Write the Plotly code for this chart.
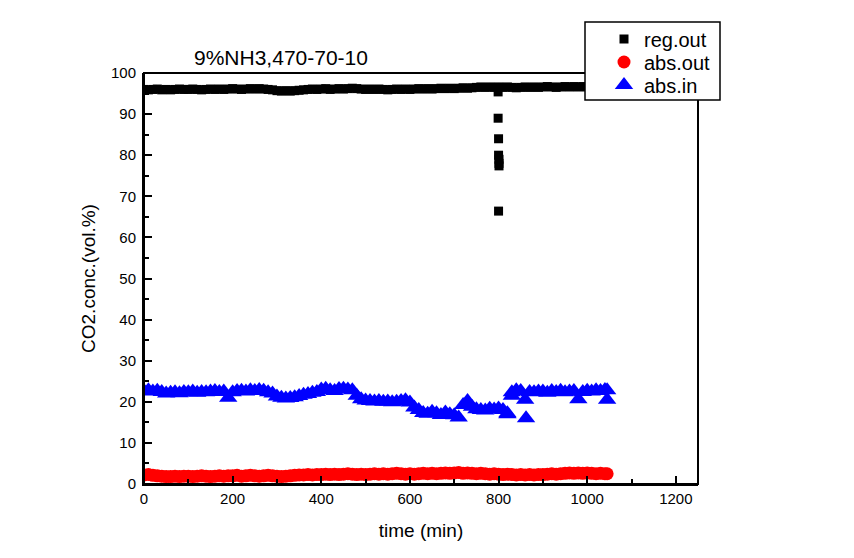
import plotly.graph_objects as go

# ---- data ----
time_base = [t * 10 for t in range(105)] + [1045]

reg_out = (
    [96.0, 95.9, 96.0, 96.1, 95.9, 96.0, 95.9, 96.0, 96.1, 96.0,
     96.0, 96.1, 96.0, 95.9, 96.0, 96.1, 96.0, 96.1, 96.0, 96.1,
     96.2, 96.1, 96.0, 96.1, 96.2, 96.1, 96.2, 96.1, 96.0, 95.9,
     95.7, 95.6, 95.7, 95.6, 95.7, 95.8, 95.9, 96.0, 96.1, 96.0,
     96.1, 96.2, 96.0, 96.1, 96.2, 96.1, 96.2, 96.3, 96.2, 96.1,
     96.0, 96.1, 96.0, 96.1, 96.0, 95.9, 96.0, 96.1, 96.0, 96.1,
     96.0, 96.1, 96.2, 96.1, 96.2, 96.1, 96.2, 96.3, 96.2, 96.3,
     96.2, 96.3, 96.4, 96.3, 96.4, 96.5, 96.6, 96.5, 96.6, 96.5,
     96.6, 96.5, 96.6, 96.5, 96.4, 96.5, 96.6, 96.5, 96.6, 96.5,
     96.6, 96.7, 96.6, 96.5, 96.6, 96.7, 96.6, 96.7, 96.6, 96.7,
     96.6, 96.7, 96.6, 96.7, 96.6, 96.7]
)
reg_dip_time = [799, 799, 800, 800, 801, 801, 801, 800]
reg_dip = [95.4, 89.0, 84.0, 80.0, 79.0, 78.0, 77.4, 66.4]

abs_out = [
    2.2, 2.3, 2.1, 2.0, 1.9, 1.8, 1.8, 1.9, 1.8, 1.9,
    1.9, 1.8, 1.9, 2.0, 1.9, 1.8, 1.9, 2.0, 1.9, 2.0,
    2.0, 2.1, 1.9, 2.0, 2.1, 2.0, 1.9, 2.0, 2.1, 2.0,
    1.9, 1.8, 1.9, 2.0, 2.1, 2.2, 2.2, 2.3, 2.2, 2.3,
    2.3, 2.4, 2.3, 2.4, 2.3, 2.4, 2.5, 2.4, 2.3, 2.4,
    2.3, 2.4, 2.5, 2.4, 2.5, 2.4, 2.5, 2.6, 2.5, 2.4,
    2.5, 2.4, 2.5, 2.6, 2.5, 2.6, 2.5, 2.6, 2.7, 2.6,
    2.7, 2.8, 2.6, 2.7, 2.6, 2.5, 2.6, 2.5, 2.4, 2.5,
    2.4, 2.3, 2.4, 2.3, 2.2, 2.3, 2.2, 2.3, 2.2, 2.3,
    2.3, 2.4, 2.5, 2.4, 2.5, 2.6, 2.7, 2.6, 2.7, 2.6,
    2.7, 2.6, 2.5, 2.6, 2.5, 2.5]

abs_in = [
    22.6, 22.8, 22.5, 22.7, 22.4, 22.0, 22.2, 22.3, 22.1, 22.4,
    22.3, 22.5, 22.2, 22.4, 22.3, 22.5, 22.6, 22.4, 22.5, 21.0,
    22.3, 22.6, 22.7, 22.5, 22.8, 22.6, 22.9, 22.7, 22.3, 22.0,
    21.3, 21.0, 20.8, 20.9, 21.1, 21.4, 21.7, 21.9, 22.2, 22.4,
    23.0, 23.2, 22.8, 22.6, 23.1, 23.2, 23.0, 22.8, 21.5, 20.6,
    20.3, 20.2, 20.1, 20.2, 20.0, 20.1, 19.9, 20.0, 20.2, 20.4,
    19.8, 18.6, 18.0, 17.3, 17.1, 17.6, 17.2, 16.8, 17.4, 17.0,
    16.7, 16.2, 19.2, 20.2, 18.8, 18.2, 18.0, 17.9, 18.3, 18.1,
    18.4, 18.0, 17.2, 22.3, 22.8, 22.6, 20.5, 22.4, 22.3, 22.5,
    22.5, 22.2, 22.6, 22.4, 22.7, 22.3, 22.5, 22.6, 20.6, 22.4,
    22.7, 22.5, 22.8, 22.6, 22.9, 20.5]
abs_in_extra_time = [820, 862, 1045, 830]
abs_in_extra = [17.0, 16.0, 22.8, 21.5]

x_ticks = [0, 200, 400, 600, 800, 1000, 1200]
y_ticks = [0, 10, 20, 30, 40, 50, 60, 70, 80, 90, 100]

FONT = "Arial, Liberation Sans, sans-serif"

# pixel layout helpers (plot area 144..698 x 73..484 on screen; page has 8px body offset)
OFF = 8
PL, PR, PT, PB = 144, 698, 73, 484
W, H = PR - PL, PB - PT
def px(x):
    return (x - PL) / W
def py(y):
    return (PB - y) / H

fig = go.Figure()
fig.add_trace(go.Scatter(
    x=time_base + reg_dip_time, y=reg_out + reg_dip, mode="markers", name="reg.out",
    legend="legend",
    marker=dict(symbol="square", size=9, color="black", line=dict(width=0))))
fig.add_trace(go.Scatter(
    x=time_base, y=abs_out, mode="markers", name="abs.out",
    legend="legend2",
    marker=dict(symbol="circle", size=13, color="#ff0000", line=dict(width=0))))
fig.add_trace(go.Scatter(
    x=time_base + abs_in_extra_time, y=abs_in + abs_in_extra, mode="markers", name="abs.in",
    legend="legend3",
    marker=dict(symbol="triangle-up", size=16, color="#0000ff", line=dict(width=0))))

axis_common = dict(
    showgrid=False, zeroline=False, showline=True, linecolor="black", linewidth=2,
    ticks="inside", ticklen=8, tickwidth=1.5, tickcolor="black", automargin=False,
    tickfont=dict(family=FONT, size=15, color="black"),
)
fig.update_xaxes(
    range=[0, 1250], tickvals=x_ticks, ticktext=[str(v) for v in x_ticks],
    minor=dict(ticks="inside", ticklen=5, tickwidth=1.5, tickcolor="black", dtick=100),
    title=dict(text="time (min)", font=dict(family=FONT, size=19, color="black"), standoff=18),
    **axis_common)
fig.update_yaxes(
    range=[0, 100], tickvals=y_ticks, ticktext=[str(v) for v in y_ticks],
    minor=dict(ticks="inside", ticklen=5, tickwidth=1.5, tickcolor="black", dtick=5),
    title=dict(text="CO2.conc.(vol.%)", font=dict(family=FONT, size=19, color="black"), standoff=10),
    ticklabelstandoff=3,
    **axis_common)

# plot frame (top/right borders)
fig.add_shape(type="rect", xref="paper", yref="paper", x0=0, y0=0, x1=1, y1=1,
              line=dict(color="black", width=2), fillcolor="rgba(0,0,0,0)", layer="above")
# legend box
fig.add_shape(type="rect", xref="paper", yref="paper",
              x0=px(585), x1=px(720), y0=py(100), y1=py(22),
              line=dict(color="black", width=1.5), fillcolor="white", layer="above")

fig.add_annotation(text="9%NH3,470-70-10", xref="paper", yref="paper",
                   x=px(192), y=py(57), xanchor="left", yanchor="middle",
                   showarrow=False, font=dict(family=FONT, size=21, color="black"))

leg_common = dict(xanchor="left", yanchor="middle", bgcolor="rgba(0,0,0,0)", borderwidth=0,
                  font=dict(family=FONT, size=20, color="black"), itemsizing="trace")
fig.update_layout(
    width=854, height=558,
    margin=dict(l=PL - OFF, r=854 - (PR - OFF), t=PT - OFF, b=558 - (PB - OFF), autoexpand=False),
    paper_bgcolor="white", plot_bgcolor="white",
    showlegend=True,
    legend=dict(x=px(604), y=py(39), **leg_common),
    legend2=dict(x=px(604), y=py(62), **leg_common),
    legend3=dict(x=px(604), y=py(85), **leg_common),
)

fig.write_html("out.html")
